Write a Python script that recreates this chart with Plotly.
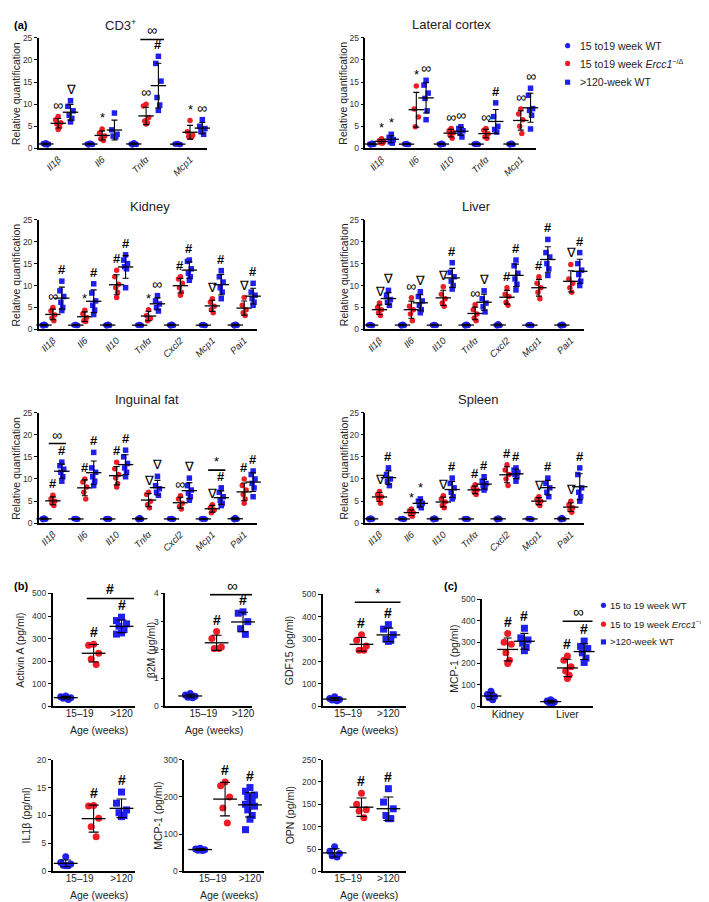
import numpy as np
import plotly.graph_objects as go

W, H = 709, 902
FONT = 'Arial, Liberation Sans, sans-serif'
BLUE = '#1f1ff0'
RED = '#ee1d25'
INK = '#222222'

# ---------------- (a) relative quantification ----------------
GENES4 = ['Il1β', 'Il6', 'Tnfα', 'Mcp1']
GENES5 = ['Il1β', 'Il6', 'Il10', 'Tnfα', 'Mcp1']
GENES7 = ['Il1β', 'Il6', 'Il10', 'Tnfα', 'Cxcl2', 'Mcp1', 'Pai1']

CD3_WT = [[1.3, 1.1, 1.0, 0.9, 0.8], [1.2, 1.0, 0.9, 0.8, 1.1], [1.3, 1.0, 0.9, 0.8, 1.1], [1.1, 1.0, 0.9, 1.0, 0.9]]
CD3_KO = [[7.2, 6.5, 5.8, 5.5, 4.8, 4.3], [4.4, 3.5, 2.8, 2.2, 1.8], [10.0, 9.6, 7.0, 6.2, 5.8, 5.5], [6.3, 3.8, 3.0, 2.7, 2.5]]
CD3_OLD = [[10.8, 9.5, 8.5, 7.5, 6.8, 6.0], [8.0, 4.2, 3.2, 2.8, 2.6], [20.8, 19.2, 15.2, 11.5, 9.8, 8.6], [6.5, 5.0, 4.5, 3.8, 3.2]]
CD3_SIG_KO = ['∞', '*', '∞', '*']
CD3_SIG_OLD = ['∇', '', '#', '∞']
CD3_BRACKETS = [(2, 24.6, '∞')]

LAT_WT = [[1.2, 1.0, 0.9, 0.8, 1.1], [1.1, 1.0, 0.9, 1.0, 0.9], [1.2, 1.0, 0.9, 0.8, 1.1], [1.1, 1.0, 0.9, 0.9, 1.0], [1.2, 1.0, 0.9, 0.8, 1.1]]
LAT_KO = [[2.2, 1.8, 1.5, 1.3, 1.2], [14.1, 8.9, 7.1, 4.9], [4.5, 4.0, 3.5, 3.0, 2.3], [4.5, 4.1, 3.3, 2.6, 2.3], [8.9, 7.8, 6.5, 5.0, 3.4]]
LAT_OLD = [[3.2, 2.5, 2.0, 1.5, 1.2], [15.4, 14.3, 12.5, 11.3, 8.5, 6.5], [4.9, 4.5, 4.0, 3.5, 2.6], [10.3, 7.2, 5.0, 4.3, 3.7], [13.6, 12.0, 9.0, 8.6, 7.5, 4.4]]
LAT_SIG_KO = ['*', '*', '∞', '∞', '∞']
LAT_SIG_OLD = ['*', '∞', '∞', '#', '∞']

KID_WT = [[1.2, 1.0, 0.9, 0.8, 1.1], [1.1, 1.0, 0.9, 1.0, 0.9], [1.2, 1.0, 0.9, 0.8, 1.1], [1.1, 1.0, 0.9, 0.9, 1.0], [1.2, 1.0, 0.9, 0.8, 1.1], [1.1, 1.0, 0.9, 1.0, 0.9], [1.2, 1.0, 0.9, 0.8, 1.1]]
KID_KO = [[5.0, 4.2, 3.3, 2.6, 2.0], [4.4, 3.6, 2.7, 2.0, 1.8], [13.5, 12.0, 10.3, 9.5, 8.5, 7.3], [4.5, 3.2, 2.5, 2.0],
          [12.0, 11.5, 10.5, 9.5, 8.5, 7.8], [7.0, 6.2, 5.3, 4.5, 3.8], [7.3, 5.5, 4.5, 3.8, 3.2]]
KID_OLD = [[11.0, 8.8, 7.5, 6.2, 5.0, 4.3], [10.4, 8.3, 6.5, 5.5, 4.4, 3.4], [17.0, 15.8, 15.0, 14.3, 13.8, 9.5], [7.7, 6.5, 5.8, 5.0, 4.2],
           [15.8, 15.5, 13.8, 12.8, 12.0, 11.2], [13.4, 12.0, 10.8, 9.5, 8.5, 7.0], [10.5, 8.5, 7.8, 7.0, 6.2, 5.5]]
KID_SIG_KO = ['∞', '*', '#', '*', '#', '∇', '∇']
KID_SIG_OLD = ['#', '#', '#', '∞', '#', '#', '#']

LIV_WT = [[1.1, 1.0, 0.9, 1.0, 0.9], [1.2, 1.0, 0.9, 0.8, 1.1], [1.1, 1.0, 0.9, 0.9, 1.0], [1.2, 1.0, 0.9, 0.8, 1.1], [1.3, 1.0, 0.9, 0.8, 1.1], [1.1, 1.0, 0.9, 1.0, 0.9], [1.2, 1.0, 0.9, 0.8, 1.1]]
LIV_KO = [[6.0, 5.0, 4.5, 3.8, 3.2], [7.2, 5.3, 4.5, 3.5, 2.0], [9.7, 8.0, 7.0, 6.0, 5.3], [5.6, 4.5, 3.5, 2.6, 2.0],
          [9.5, 8.0, 7.5, 6.2, 5.5], [12.0, 10.5, 9.5, 8.5, 7.0], [14.8, 11.5, 10.5, 9.5, 8.5]]
LIV_OLD = [[8.9, 7.8, 6.8, 6.2, 5.5], [8.6, 7.5, 6.5, 5.5, 4.5, 3.8], [15.2, 13.0, 12.0, 11.0, 10.0, 9.2], [8.8, 7.0, 6.0, 5.2, 4.0],
           [15.8, 14.5, 12.8, 11.5, 10.3, 9.0], [20.5, 17.5, 16.5, 15.0, 13.8, 12.3], [17.5, 15.0, 13.5, 12.5, 11.0, 10.0]]
LIV_SIG_KO = ['∇', '∞', '∇', '∞', '#', '#', '∇']
LIV_SIG_OLD = ['∇', '∇', '#', '∇', '#', '#', '#']

ING_WT = [[1.2, 1.0, 0.9, 0.8, 1.1], [1.1, 1.0, 0.9, 1.0, 0.9], [1.1, 1.0, 0.9, 0.9, 1.0], [1.3, 1.0, 0.9, 0.8, 1.1], [1.1, 1.0, 0.9, 1.0, 0.9], [1.1, 1.0, 0.9, 0.9, 1.0], [1.3, 1.0, 0.9, 0.8, 1.1]]
ING_KO = [[6.3, 5.5, 5.0, 4.5, 4.0], [10.0, 9.3, 8.2, 7.0, 5.5], [13.8, 12.3, 11.0, 10.2, 9.0, 8.2], [7.0, 6.5, 5.0, 4.2, 3.5],
          [6.2, 5.5, 4.5, 3.8, 3.2], [4.2, 3.5, 3.0, 2.4], [10.0, 8.5, 7.5, 6.5, 5.5, 4.5]]
ING_OLD = [[13.8, 13.0, 12.2, 11.5, 10.5, 9.5], [16.0, 12.5, 11.5, 10.5, 9.5, 8.5], [16.5, 15.0, 13.5, 12.5, 11.5, 10.5], [10.6, 8.5, 7.8, 7.0, 6.3],
           [10.2, 8.5, 7.5, 6.8, 6.0, 5.2], [8.0, 7.0, 6.0, 5.2, 4.5, 4.0], [11.8, 11.0, 10.0, 9.0, 8.0, 6.0]]
ING_SIG_KO = ['#', '#', '#', '∇', '∞', '∇', '#']
ING_SIG_OLD = ['#', '#', '#', '∇', '∇', '#', '#']
ING_BRACKETS = [(0, 18.0, '∞'), (5, 12.0, '*')]

SPL_WT = [[1.2, 1.0, 0.9, 0.8, 1.1], [1.1, 1.0, 0.9, 1.0, 0.9], [1.2, 1.0, 0.9, 0.8, 1.1], [1.1, 1.0, 0.9, 0.9, 1.0], [1.2, 1.0, 0.9, 0.8, 1.1], [1.1, 1.0, 0.9, 1.0, 0.9], [1.3, 1.0, 0.9, 0.8, 1.1]]
SPL_KO = [[7.2, 6.5, 6.0, 5.5, 4.5], [3.2, 2.8, 2.4, 2.0, 1.6], [6.2, 5.5, 4.8, 4.0, 3.5], [8.7, 8.0, 7.5, 7.0, 6.5],
          [13.2, 12.0, 11.0, 10.0, 8.5], [6.0, 5.5, 5.0, 4.5, 4.0], [5.0, 4.2, 3.5, 3.0, 2.5]]
SPL_OLD = [[12.5, 11.0, 10.0, 9.5, 8.5], [5.5, 5.0, 4.5, 4.0, 3.5], [10.2, 9.0, 8.0, 7.0, 6.0, 5.5], [10.5, 9.5, 9.0, 8.5, 8.0, 7.5],
           [12.5, 12.0, 11.5, 11.0, 10.5, 9.5], [10.2, 9.0, 8.0, 7.0, 6.0], [12.5, 11.0, 8.0, 7.0, 6.0, 5.0]]
SPL_SIG_KO = ['∇', '*', '∇', '#', '#', '∇', '∇']
SPL_SIG_OLD = ['#', '*', '#', '#', '#', '#', '#']

# ---------------- (b) serum factors, (c) MCP-1 ----------------
AGE_TICKS = ['15–19', '>120']

ACT_WT = [45, 42, 38, 35, 30]
ACT_KO = [275, 270, 235, 210, 185]
ACT_OLD = [395, 380, 365, 355, 340, 325, 320]

B2M_WT = [0.45, 0.4, 0.35, 0.32, 0.3]
B2M_KO = [2.65, 2.4, 2.1, 2.05, 2.05]
B2M_OLD = [3.35, 3.3, 3.0, 2.75, 2.55]

GDF_WT = [42, 35, 30, 28, 25]
GDF_KO = [320, 295, 270, 250, 250]
GDF_OLD = [365, 345, 320, 300, 295, 290]

IL1B_WT = [2.6, 1.6, 1.3, 1.1, 1.0, 1.0]
IL1B_KO = [11.8, 11.7, 9.5, 8.0, 6.2]
IL1B_OLD = [14.2, 12.2, 11.0, 10.5, 10.0, 9.8]

MCPS_WT = [62, 60, 58, 57, 56]
MCPS_KO = [240, 230, 200, 170, 130]
MCPS_OLD = [225, 215, 205, 200, 190, 185, 180, 175, 165, 150, 140, 112]

OPN_WT = [55, 45, 40, 35, 32]
OPN_KO = [175, 150, 138, 135, 120]
OPN_OLD = [185, 155, 140, 125, 118, 118]

TISSUES = ['Kidney', 'Liver']
MCPT_WT = [[70, 55, 45, 40, 30], [30, 25, 20, 18, 15]]
MCPT_KO = [[340, 300, 290, 250, 215, 200], [235, 215, 185, 165, 145, 130]]
MCPT_OLD = [[365, 320, 310, 295, 275, 260], [305, 280, 270, 250, 225, 205]]
MCPT_SIG_KO = ['#', '#']
MCPT_SIG_OLD = ['#', '#']

JIT = [0.0, -1.0, 1.0, -0.5, 0.5, 0.0, -1.0, 1.0, -0.5, 0.5, 0.0, -1.0]

fig = go.Figure()
layout = {}
annotations = []
shapes = []


def names(n):
    s = '' if n == 1 else str(n)
    return 'x' + s, 'y' + s, 'xaxis' + s, 'yaxis' + s


def sig_font(sig, size):
    # hash marks are printed heavier, infinity signs a bit wider
    if sig == '#':
        return '<b>#</b>', size
    if sig == '∞':
        return sig, size + 1
    return sig, size


def add_group(n, pos, vals, color, symbol, msize, spread, barw, capw, sig, sigsize):
    xa, ya, _, _ = names(n)
    vals = np.array(vals, dtype=float)
    xs = [pos + JIT[i] * spread for i in range(len(vals))]
    fig.add_trace(go.Scatter(x=xs, y=vals, xaxis=xa, yaxis=ya, mode='markers', cliponaxis=False,
                             marker=dict(symbol=symbol, size=msize, color=color, line=dict(width=0)),
                             showlegend=False, hoverinfo='y'))
    m, sd = vals.mean(), vals.std(ddof=1)
    fig.add_trace(go.Scatter(x=[pos], y=[m], xaxis=xa, yaxis=ya, mode='markers', cliponaxis=False,
                             marker=dict(symbol='line-ew', size=barw, line=dict(width=1.3, color='black')),
                             error_y=dict(type='data', array=[sd], color='black', thickness=1.1, width=capw),
                             showlegend=False, hoverinfo='skip'))
    if sig:
        s, fs = sig_font(sig, sigsize)
        annotations.append(dict(x=pos, y=max(vals.max(), m + sd), xref=xa, yref=ya, text=s,
                                showarrow=False, yanchor='bottom', yshift=2,
                                font=dict(size=fs, color='black', family=FONT)))


def bracket(n, x0, x1, level, sig, sigsize):
    xa, ya, _, _ = names(n)
    fig.add_trace(go.Scatter(x=[x0, x1], y=[level, level], xaxis=xa, yaxis=ya, mode='lines',
                             line=dict(color='black', width=1.6), showlegend=False, hoverinfo='skip'))
    s, fs = sig_font(sig, sigsize)
    annotations.append(dict(x=(x0 + x1) / 2, y=level, xref=xa, yref=ya, text=s, showarrow=False,
                            yanchor='bottom', yshift=-1, font=dict(size=fs, color='black', family=FONT)))


def set_axes(n, box, xr, yr, ytickvals, tickvals, ticktext, tickangle, xfont):
    x0, x1, yt, yb = box
    xa, ya, xk, yk = names(n)
    layout[xk] = dict(domain=[x0 / W, x1 / W], range=xr, anchor=ya, showline=True, linecolor='black',
                      linewidth=1.8, ticks='', showgrid=False, zeroline=False, tickvals=tickvals,
                      ticktext=ticktext, tickangle=tickangle, tickfont=dict(size=xfont, color=INK, family=FONT))
    layout[yk] = dict(domain=[1 - yb / H, 1 - yt / H], range=yr, anchor=xa, showline=True, linecolor='black',
                      linewidth=1.6, ticks='outside', ticklen=3, tickwidth=1, tickcolor='black',
                      showgrid=False, zeroline=False, tickvals=ytickvals,
                      tickfont=dict(size=8.5, color='#333333', family=FONT))


def text(x, y, s, size, angle=0, anchor='center', bold=False):
    annotations.append(dict(x=x / W, y=1 - y / H, xref='paper', yref='paper', text=('<b>%s</b>' % s) if bold else s,
                            showarrow=False, textangle=angle, xanchor=anchor, yanchor='middle',
                            font=dict(size=size, color='black' if bold else INK, family=FONT)))


OFF = 0.28


def gene_panel(n, genes, wt, ko, old, sig_ko, sig_old, brackets, box, xr, title, title_x, ylab_x):
    set_axes(n, box, xr, [0, 25], [0, 5, 10, 15, 20, 25], list(range(len(genes))),
             ['<i>%s</i>' % g for g in genes], -45, 9.5)
    for g in range(len(genes)):
        add_group(n, g - OFF, wt[g], BLUE, 'circle', 5.5, 0.06, 11, 3, '', 13)
        add_group(n, g, ko[g], RED, 'circle', 5.5, 0.06, 11, 3, sig_ko[g], 13)
        add_group(n, g + OFF, old[g], BLUE, 'square', 5.5, 0.06, 11, 3, sig_old[g], 13)
    for g, level, sig in brackets:
        bracket(n, g - 0.13, g + OFF + 0.13, level, sig, 13)
    text(title_x, box[2] - 13, title, 13)
    text(ylab_x, (box[2] + box[3]) / 2, 'Relative quantification', 10.5, angle=-90)


gene_panel(1, GENES4, CD3_WT, CD3_KO, CD3_OLD, CD3_SIG_KO, CD3_SIG_OLD, CD3_BRACKETS,
           (31, 200, 25, 137), [-0.44, 3.39], 'CD3<sup>+</sup>', 113, 8)
gene_panel(2, GENES5, LAT_WT, LAT_KO, LAT_OLD, LAT_SIG_KO, LAT_SIG_OLD, [],
           (359, 530, 25, 137), [-0.46, 4.43], 'Lateral cortex', 445, 337)
gene_panel(3, GENES7, KID_WT, KID_KO, KID_OLD, KID_SIG_KO, KID_SIG_OLD, [],
           (31, 250, 209, 320), [-0.44, 6.4], 'Kidney', 143, 8)
gene_panel(4, GENES7, LIV_WT, LIV_KO, LIV_OLD, LIV_SIG_KO, LIV_SIG_OLD, [],
           (359, 578, 209, 320), [-0.44, 6.4], 'Liver', 470, 337)
gene_panel(5, GENES7, ING_WT, ING_KO, ING_OLD, ING_SIG_KO, ING_SIG_OLD, ING_BRACKETS,
           (31, 250, 404, 516), [-0.44, 6.4], 'Inguinal fat', 140, 8)
gene_panel(6, GENES7, SPL_WT, SPL_KO, SPL_OLD, SPL_SIG_KO, SPL_SIG_OLD, [],
           (359, 578, 404, 516), [-0.44, 6.4], 'Spleen', 472, 337)


def age_panel(n, wt, ko, old, box, p0, step, yr, ytv, ylab, ylab_x, brk=None, sym=('#', '#')):
    x0, x1, yt, yb = box
    set_axes(n, box, [(x0 - p0) / step, (x1 - p0) / step], yr, ytv, [0.5, 2], AGE_TICKS, 0, 10)
    layout[names(n)[2]]['ticklabelstandoff'] = -3
    add_group(n, 0, wt, BLUE, 'circle', 7, 0.18, 17, 5, '', 14)
    add_group(n, 1, ko, RED, 'circle', 7, 0.18, 17, 5, sym[0], 14)
    add_group(n, 2, old, BLUE, 'square', 7, 0.18, 17, 5, sym[1], 14)
    if brk:
        bracket(n, 0.75, 2.45, brk[0], brk[1], 14)
    text(ylab_x, (yt + yb) / 2, ylab, 10.5, angle=-90)
    text((x0 + x1) / 2 + 5, yb + 24, 'Age (weeks)', 10.5)


age_panel(7, ACT_WT, ACT_KO, ACT_OLD, (45, 128, 587, 701), 58, 28, [0, 500], [0, 100, 200, 300, 400, 500],
          'Activin A (pg/ml)', 12, brk=(478, '#'))
age_panel(8, B2M_WT, B2M_KO, B2M_OLD, (158, 245, 587, 701), 183, 26.5, [0, 4], [0, 1, 2, 3, 4],
          'β2M (μg/ml)', 143, brk=(3.96, '∞'))
age_panel(9, GDF_WT, GDF_KO, GDF_OLD, (316, 400, 588, 701), 328, 27, [0, 500], [0, 100, 200, 300, 400, 500],
          'GDF15 (pg/ml)', 283, brk=(465, '*'))
age_panel(10, IL1B_WT, IL1B_KO, IL1B_OLD, (45, 128, 755, 868), 58, 28, [0, 20], [0, 5, 10, 15, 20],
          'IL1β (pg/ml)', 18)
age_panel(11, MCPS_WT, MCPS_KO, MCPS_OLD, (177, 257, 755, 868), 193, 25, [0, 300], [0, 100, 200, 300],
          'MCP-1 (pg/ml)', 150)
age_panel(12, OPN_WT, OPN_KO, OPN_OLD, (316, 400, 755, 868), 328, 27, [0, 250], [0, 50, 100, 150, 200, 250],
          'OPN (pg/ml)', 283)

# (c) MCP-1 in tissues
set_axes(13, (476, 587, 593, 701), [-0.43, 1.42], [0, 500], [0, 100, 200, 300, 400, 500], [0, 1], TISSUES, 0, 10.5)
layout['xaxis13']['ticklabelstandoff'] = -3
for t in range(len(TISSUES)):
    add_group(13, t - OFF, MCPT_WT[t], BLUE, 'circle', 7, 0.06, 15, 4, '', 14)
    add_group(13, t, MCPT_KO[t], RED, 'circle', 7, 0.06, 15, 4, MCPT_SIG_KO[t], 14)
    add_group(13, t + OFF, MCPT_OLD[t], BLUE, 'square', 7, 0.06, 15, 4, MCPT_SIG_OLD[t], 14)
bracket(13, 1 - 0.08, 1 + OFF + 0.16, 398, '∞', 14)
text(448, 653, 'MCP-1 (pg/ml)', 10.5, angle=-90)

# panel letters
text(4, 12, '(a)', 11, anchor='left', bold=True)
text(4, 579, '(b)', 11, anchor='left', bold=True)
text(436, 579, '(c)', 11, anchor='left', bold=True)

# legends
LEGEND = ['15 to19 week WT', '15 to19 week <i>Ercc1</i><sup>−/Δ</sup>', '>120-week WT']
LEGEND_C = ['15 to 19 week WT', '15 to 19 week <i>Ercc1</i><sup>−/Δ</sup>', '>120-week WT']


def legend(mx, tx, ys, labels, r, size):
    kinds = [('circle', BLUE), ('circle', RED), ('rect', BLUE)]
    for (kind, col), y, lab in zip(kinds, ys, labels):
        shapes.append(dict(type=kind, xref='paper', yref='paper', x0=(mx - r) / W, x1=(mx + r) / W,
                           y0=1 - (y + r) / H, y1=1 - (y - r) / H, fillcolor=col, line=dict(width=0)))
        text(tx, y, lab, size, anchor='left')


legend(562, 572, [33, 51, 70], LEGEND, 2.6, 10.5)
legend(598, 603, [599, 618, 636], LEGEND_C, 2.6, 9.5)

fig.update_layout(width=W, height=H, margin=dict(l=0, r=0, t=0, b=0), paper_bgcolor='white',
                  plot_bgcolor='white', font=dict(family=FONT), annotations=annotations, shapes=shapes,
                  showlegend=False, **layout)
fig.write_html('out.html')
